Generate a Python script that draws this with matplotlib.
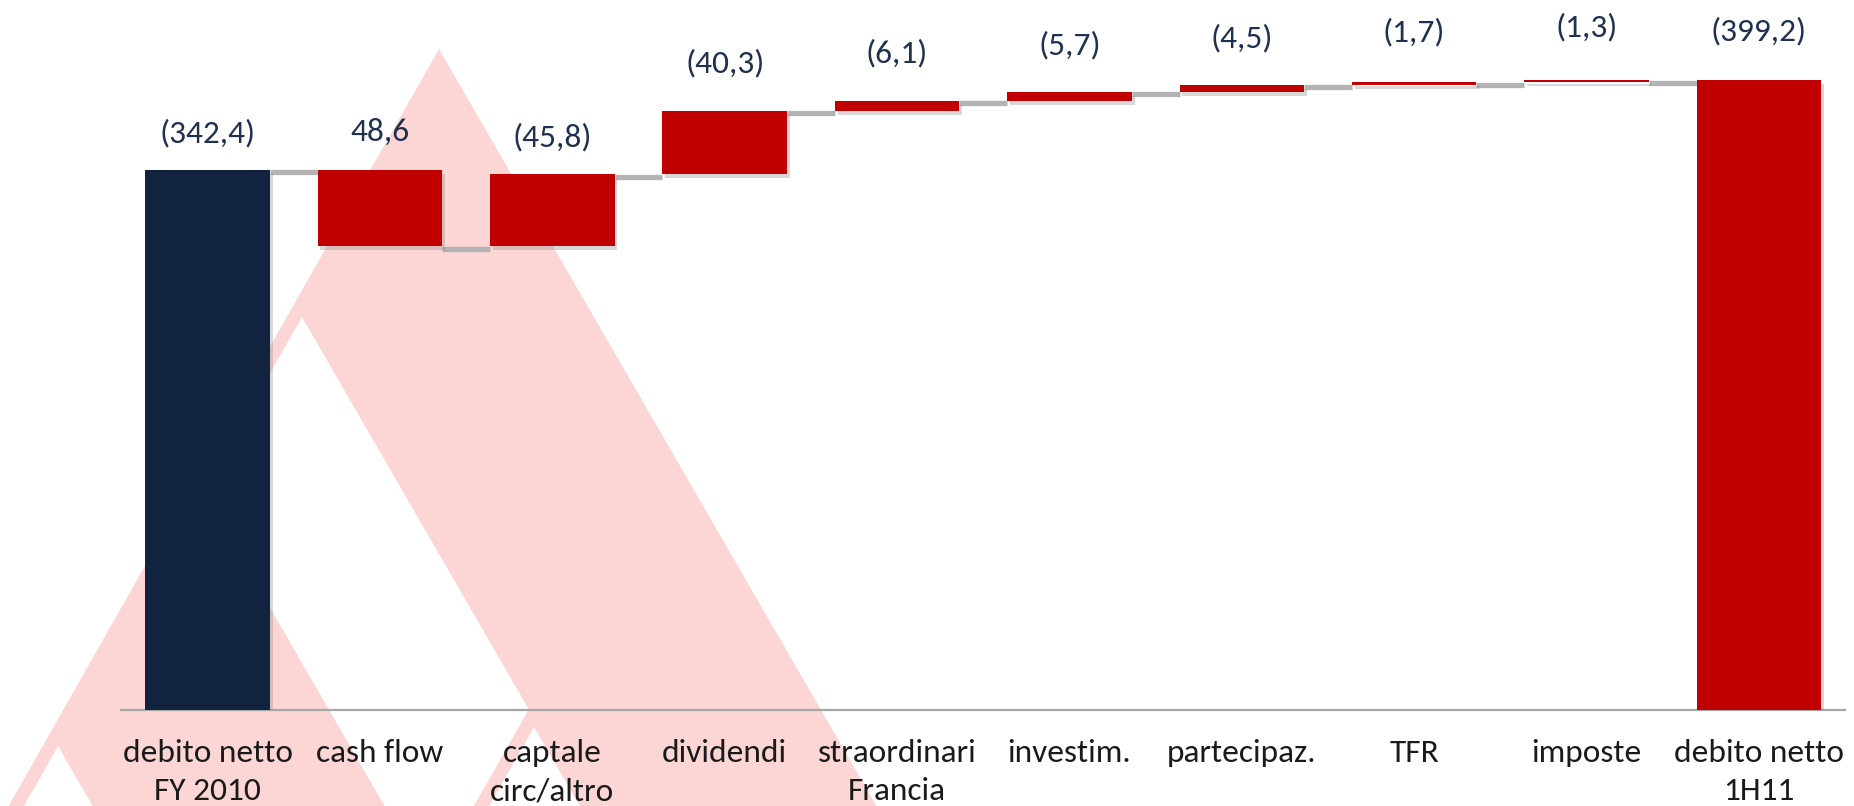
import matplotlib.pyplot as plt
import matplotlib.patheffects as pe
import matplotlib.transforms as mtransforms
from matplotlib import font_manager
from matplotlib.patches import Polygon
import numpy as np

# data
categories = ['debito netto\nFY 2010', 'cash flow', 'captale\ncirc/altro', 'dividendi',
              'straordinari\nFrancia', 'investim.', 'partecipaz.', 'TFR', 'imposte',
              'debito netto\n1H11']
start_value = 342.4
changes = [-48.6, 45.8, 40.3, 6.1, 5.7, 4.5, 1.7, 1.3]
end_value = 399.2
value_labels = ['(342,4)', '48,6', '(45,8)', '(40,3)', '(6,1)', '(5,7)', '(4,5)', '(1,7)', '(1,3)', '(399,2)']

# label distance above each bar top (pixels) - styling only
label_gap = [37, 38, 37, 47, 48, 47, 47, 50, 53, 49]

navy = '#12233f'
red = '#c00000'
pink = '#fcd5d5'
label_col = '#1f3050'

# pick a narrow font close to Calibri
names = {f.name for f in font_manager.fontManager.ttflist}
family = 'DejaVu Sans'
for cand in ['Carlito', 'Liberation Sans Narrow', 'Roboto Condensed', 'Lato', 'Roboto']:
    if cand in names:
        family = cand
        break
plt.rcParams['font.family'] = [family, 'DejaVu Sans']

fig = plt.figure(figsize=(18.54, 8.06), dpi=100)

# background watermark (pink chevrons), pixel coords of the figure
bg = fig.add_axes([0, 0, 1, 1], zorder=0)
bg.set_xlim(0, 1854)
bg.set_ylim(806, 0)
bg.axis('off')

def chevron(ax, apx, apy, bottom=806):
    sl, sr = 0.568, 0.578
    h = bottom - apy
    ix, iy = apx - 137, apy + 268
    hi = bottom - iy
    ax.add_patch(Polygon([(apx, apy), (apx + sr * h, bottom), (apx - sl * h, bottom)],
                         fc=pink, ec='none'))
    ax.add_patch(Polygon([(ix, iy), (ix + sr * hi, bottom), (ix - sl * hi, bottom)],
                         fc='white', ec='none'))

chevron(bg, 439, 49)
chevron(bg, 195, 478)
chevron(bg, 671, 459)

# main chart
ax = fig.add_axes([0.0655, 0.1197, 0.9297, 0.8803], zorder=1)
ax.patch.set_alpha(0)

x = np.arange(len(categories))
totals = [start_value]
for c in changes:
    totals.append(totals[-1] + c)

bottoms = [0]
heights = [start_value]
for i, c in enumerate(changes):
    bottoms.append(min(totals[i], totals[i + 1]))
    heights.append(abs(c))
bottoms.append(0)
heights.append(end_value)
colors = [navy] + [red] * len(changes) + [red]

w = 0.723
shadow = [pe.SimplePatchShadow(offset=(2, -3), shadow_rgbFace='#7f7f7f', alpha=0.3), pe.Normal()]
bars = ax.bar(x, heights, bottom=bottoms, width=w, color=colors, zorder=3)
for b in bars:
    b.set_path_effects(shadow)

# connectors, drawn a little below the level like the original's shadowed lines
conn_tr = mtransforms.offset_copy(ax.transData, fig=fig, y=-2.5, units='dots')
for i in range(len(categories) - 1):
    ax.plot([x[i] + w / 2, x[i + 1] - w / 2], [totals[i]] * 2, transform=conn_tr,
            color='#b3b3b3', lw=3.8, zorder=2, solid_capstyle='butt')

# value labels
tops = [b + h for b, h in zip(bottoms, heights)]
for xi, t, lab, gap in zip(x, tops, value_labels, label_gap):
    ax.annotate(lab, (xi, t), xytext=(0, gap * 0.72), textcoords='offset points',
                ha='center', va='center', fontsize=24, color=label_col, annotation_clip=False)

ax.set_xlim(-0.5, len(categories) - 0.5)
ax.set_ylim(0, 450)
ax.set_xticks(x)
ax.set_xticklabels(categories, fontsize=24, color='#1a1a1a', linespacing=1.42)
ax.tick_params(axis='x', length=0, pad=21.5)
ax.set_yticks([])
for s in ['top', 'left', 'right']:
    ax.spines[s].set_visible(False)
ax.spines['bottom'].set_color('#a6a6a6')
ax.spines['bottom'].set_linewidth(1.6)

fig.savefig('out.png', dpi=100)
